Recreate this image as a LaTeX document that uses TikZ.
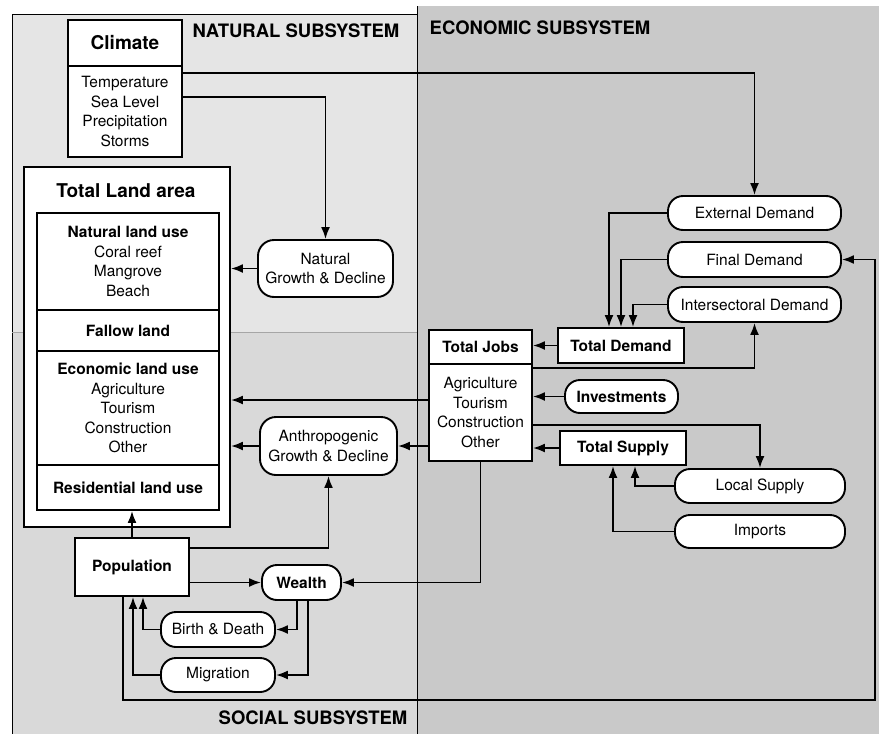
\documentclass[tikz,border=0pt]{standalone}
\usepackage{fontspec}
\setmainfont{TeX Gyre Heros}
\usetikzlibrary{arrows.meta}
\begin{document}
\begin{tikzpicture}[x=1pt,y=-1pt,
  reg/.style={font=\fontsize{15.5}{19.5}\selectfont},
  sz/.style 2 args={minimum width=#1, minimum height=#2},
  bx/.style={draw, line width=1.9pt, fill=white, inner sep=0pt, align=center, reg},
  pill/.style={bx, rounded corners=15pt},
  bigpill/.style={bx, rounded corners=16pt},
  arr/.style={line width=1.9pt, -{Latex[length=12pt,width=9pt]}},
  hdr/.style={font=\fontsize{18.5}{22}\selectfont\bfseries, inner sep=0pt},
  ttl/.style={font=\fontsize{19}{22}\selectfont\bfseries},
]
% page and regions
\fill[white] (0,0) rectangle (879,734);
\useasboundingbox (0,0) rectangle (879,734);
\fill[gray!20] (12,14) rectangle (417,332);
\fill[gray!30] (12,332) rectangle (417,734);
\fill[gray!42] (417,6) rectangle (879,734);
\draw[line width=0.9pt] (12,734) -- (12,14) -- (417,14);
\draw[line width=0.9pt] (417,6) -- (417,734);
\draw[line width=0.4pt, gray!70] (12,332) -- (417,332);

% subsystem labels
\node[hdr] (natlab) at (296,31) {NATURAL SUBSYSTEM};
\node[hdr] (ecolab) at (540,28) {ECONOMIC SUBSYSTEM};
\node[hdr] (soclab) at (313,718) {SOCIAL SUBSYSTEM};

% climate
\node[bx, sz={114pt}{46pt}, ttl] (climT) at (125,43) {Climate};
\node[bx, sz={114pt}{91pt}] (climL) at (125,111.5) {Temperature\\Sea Level\\Precipitation\\Storms};

% total land area
\node[bx, sz={206pt}{360pt}] (land) at (127,347) {};
\node[ttl] (landT) at (126,191) {Total Land area};
\node[bx, sz={182pt}{97pt}] (natU) at (128,261.5) {\textbf{Natural land use}\\Coral reef\\Mangrove\\Beach};
\node[bx, sz={182pt}{41pt}] (fallow) at (128,330.5) {\textbf{Fallow land}};
\node[bx, sz={182pt}{114pt}] (econU) at (128,408) {\textbf{Economic land use}\\Agriculture\\Tourism\\Construction\\Other};
\node[bx, sz={182pt}{45pt}] (resid) at (128,487.5) {\textbf{Residential land use}};

% natural / anthropogenic
\node[bigpill, sz={135pt}{57pt}] (ngd) at (325.5,268.5) {Natural\\Growth \& Decline};
\node[bigpill, sz={137pt}{58pt}] (agd) at (328.5,446) {Anthropogenic\\Growth \& Decline};

% social
\node[bx, sz={114pt}{58pt}] (pop) at (132,567) {\textbf{Population}};
\node[pill, sz={79pt}{35pt}] (wealth) at (301.5,582.5) {\textbf{Wealth}};
\node[pill, sz={114pt}{35pt}] (bd) at (218,629.5) {Birth \& Death};
\node[pill, sz={114pt}{34pt}] (mig) at (218,675) {Migration};

% economic
\node[pill, sz={173pt}{34pt}] (extD) at (754.5,213) {External Demand};
\node[pill, sz={173pt}{35pt}] (finD) at (754.5,259.5) {Final Demand};
\node[pill, sz={173pt}{35pt}] (intD) at (754.5,304.5) {Intersectoral Demand};
\node[bx, sz={126pt}{35pt}] (totD) at (621,345.5) {\textbf{Total Demand}};
\node[bx, sz={103pt}{34pt}] (jobsT) at (480.5,347) {\textbf{Total Jobs}};
\node[bx, sz={103pt}{97pt}] (jobsL) at (480.5,412.5) {Agriculture\\Tourism\\Construction\\Other};
\node[pill, sz={113pt}{33pt}] (inv) at (621.5,396.5) {\textbf{Investments}};
\node[bx, sz={126pt}{34pt}] (totS) at (623,448) {\textbf{Total Supply}};
\node[pill, sz={170pt}{34pt}] (locS) at (760,486) {Local Supply};
\node[pill, sz={170pt}{33pt}] (imp) at (760,531.5) {Imports};

% waypoints
\coordinate (bl) at (123,700);
\coordinate (br) at (875,700);

% connectors: natural
\draw[arr] (climL.east |- 0,73) -| (extD.north);
\draw[arr] (climL.east |- 0,97) -| (ngd.north);
\draw[arr] (ngd.west) -- (land.east |- ngd.west);
\draw[arr] (agd.west) -- (land.east |- agd.west);
\draw[arr] (jobsL.west |- 0,400) -- (land.east |- 0,400);
\draw[arr] (jobsL.west |- agd.east) -- (agd.east);

% connectors: social
\draw[arr] (pop.north) -- (pop.north |- resid.south);
\draw[arr] (pop.east |- 0,548) -| (agd.south);
\draw[arr] (pop.east |- wealth.west) -- (wealth.west);
\draw[arr] (jobsL.south) |- (wealth.east);
\draw[arr] (wealth.south -| 297,0) |- (bd.east);
\draw[arr] (wealth.south -| 308,0) |- (mig.east);
\draw[arr] (bd.west) -| (pop.south -| 143,0);
\draw[arr] (mig.west) -| (pop.south -| 133,0);
\draw[arr] (pop.south -| bl) -- (bl) -- (br) |- (finD.east);

% connectors: economic
\draw[arr] (extD.west) -| (totD.north -| 609,0);
\draw[arr] (finD.west) -| (totD.north -| 621,0);
\draw[arr] (intD.west) -| (totD.north -| 633,0);
\draw[arr] (totD.west) -- (jobsT.east |- totD.west);
\draw[arr] (jobsL.east |- 0,368) -| (intD.south);
\draw[arr] (inv.west) -- (jobsL.east |- inv.west);
\draw[arr] (jobsL.east |- 0,425) -| (locS.north);
\draw[arr] (totS.west) -- (jobsL.east |- totS.west);
\draw[arr] (locS.west) -| (totS.south -| 635,0);
\draw[arr] (imp.west) -| (totS.south -| 613,0);
\end{tikzpicture}
\end{document}
